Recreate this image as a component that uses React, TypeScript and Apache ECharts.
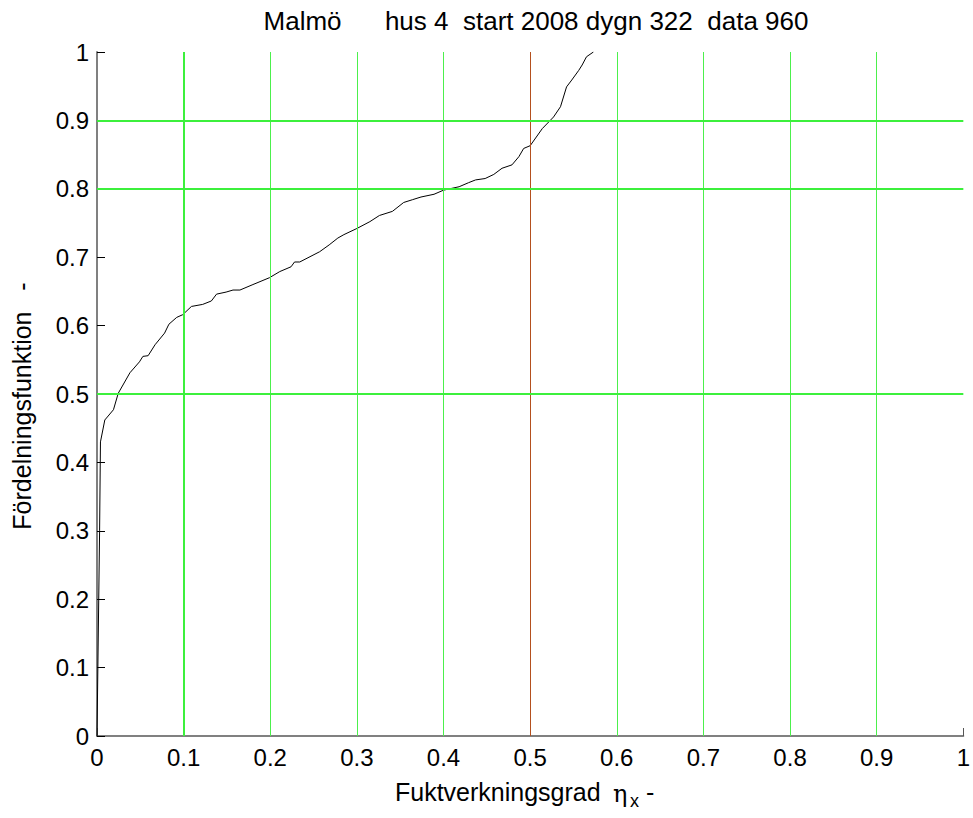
import React, { useEffect, useRef } from "react";
import * as echarts from "echarts";

const xValues = [0, 0.001, 0.002, 0.003, 0.004, 0.009, 0.019, 0.0245, 0.038, 0.049, 0.053, 0.059, 0.067, 0.078, 0.083, 0.092, 0.099, 0.109, 0.122, 0.132, 0.138, 0.149, 0.157, 0.165, 0.18, 0.199, 0.211, 0.224, 0.228, 0.234, 0.257, 0.268, 0.278, 0.285, 0.3, 0.315, 0.326, 0.341, 0.354, 0.364, 0.374, 0.389, 0.4, 0.418, 0.429, 0.437, 0.448, 0.458, 0.4675, 0.479, 0.487, 0.4925, 0.5, 0.514, 0.527, 0.535, 0.542, 0.548, 0.556, 0.56, 0.565, 0.573];
const cdfValues = [0, 0.1, 0.2, 0.3, 0.43, 0.462, 0.477, 0.501, 0.531, 0.547, 0.555, 0.556, 0.572, 0.589, 0.602, 0.612, 0.616, 0.628, 0.631, 0.636, 0.646, 0.649, 0.652, 0.652, 0.66, 0.67, 0.679, 0.686, 0.693, 0.693, 0.708, 0.718, 0.728, 0.733, 0.742, 0.752, 0.761, 0.767, 0.78, 0.784, 0.788, 0.792, 0.798, 0.803, 0.809, 0.813, 0.815, 0.821, 0.83, 0.835, 0.847, 0.859, 0.863, 0.888, 0.905, 0.92, 0.949, 0.959, 0.973, 0.981, 0.993, 1.0];

const verticalGridThin = [0.2, 0.3, 0.4, 0.6, 0.7, 0.8, 0.9];
const verticalGridThick = [0.1];
const verticalGridBrown = [0.5];
const horizontalGrid = [0.5, 0.8, 0.9];

const titleText = "Malmö      hus 4  start 2008 dygn 322  data 960";
const yLabel = "Fördelningsfunktion   -";
const xLabel = "Fuktverkningsgrad";

const FONT = "'Liberation Sans', Arial, Helvetica, sans-serif";
const GREEN = "#3cf03c";
const GREEN_THIN = "#4cf04c";
const BROWN = "#b4501e";

export default function App() {
  const ref = useRef<HTMLDivElement>(null);
  useEffect(() => {
    if (!ref.current) return;
    const chart = echarts.init(ref.current, undefined, { renderer: "svg" });
    const fmt = (v: number) => String(+v.toFixed(1));
    const markData: any[] = [];
    verticalGridThin.forEach((v) => markData.push({ xAxis: v, lineStyle: { color: GREEN_THIN, width: 1, type: "solid" } }));
    verticalGridThick.forEach((v) => markData.push({ xAxis: v, lineStyle: { color: GREEN, width: 2, type: "solid" } }));
    verticalGridBrown.forEach((v) => markData.push({ xAxis: v, lineStyle: { color: BROWN, width: 1, type: "solid" } }));
    horizontalGrid.forEach((v) => markData.push({ yAxis: v, lineStyle: { color: GREEN, width: 2, type: "solid" } }));

    chart.setOption({
      animation: false,
      backgroundColor: "#ffffff",
      grid: { left: 97, right: 7, top: 52, bottom: 82, containLabel: false },
      xAxis: {
        type: "value",
        min: 0,
        max: 1,
        interval: 0.1,
        axisLine: { show: true, lineStyle: { color: "#808080", width: 2 } },
        axisTick: { show: true, inside: true, length: 8, lineStyle: { color: "#555555", width: 1 } },
        axisLabel: { color: "#000", fontSize: 24, fontFamily: FONT, margin: 9, formatter: fmt },
        splitLine: { show: false },
      },
      yAxis: {
        type: "value",
        min: 0,
        max: 1,
        interval: 0.1,
        axisLine: { show: true, lineStyle: { color: "#808080", width: 2 } },
        axisTick: { show: true, inside: true, length: 8, lineStyle: { color: "#000", width: 1 } },
        axisLabel: { color: "#000", fontSize: 24, fontFamily: FONT, margin: 8, formatter: fmt },
        splitLine: { show: false },
      },
      series: [
        {
          type: "line",
          z: 1,
          data: [],
          silent: true,
          markLine: {
            silent: true,
            symbol: ["none", "none"],
            label: { show: false },
            animation: false,
            data: markData,
          },
        },
        {
          type: "line",
          z: 3,
          data: xValues.map((x, i) => [x, cdfValues[i]]),
          showSymbol: false,
          symbol: "none",
          lineStyle: { color: "#000", width: 1 },
          silent: true,
        },
      ],
      graphic: [
        {
          type: "text",
          x: 536,
          y: 21,
          style: { text: titleText, fill: "#000", font: `26px ${FONT}`, align: "center", verticalAlign: "middle" },
        },
        {
          type: "text",
          x: 22,
          y: 406,
          rotation: Math.PI / 2,
          style: { text: yLabel, fill: "#000", font: `25px ${FONT}`, align: "center", verticalAlign: "middle" },
        },
        {
          type: "text",
          x: 395,
          y: 792,
          style: { text: xLabel, fill: "#000", font: `25px ${FONT}`, align: "left", verticalAlign: "middle" },
        },
        {
          type: "text",
          x: 613,
          y: 794,
          style: { text: "η", fill: "#000", font: `24px 'DejaVu Serif', serif`, align: "left", verticalAlign: "middle" },
        },
        {
          type: "text",
          x: 630,
          y: 801,
          style: { text: "x", fill: "#000", font: `18px ${FONT}`, align: "left", verticalAlign: "middle" },
        },
        {
          type: "text",
          x: 646,
          y: 792,
          style: { text: "-", fill: "#000", font: `25px ${FONT}`, align: "left", verticalAlign: "middle" },
        },
      ],
    });
    return () => chart.dispose();
  }, []);
  return <div ref={ref} style={{ position: "fixed", left: 0, top: 0, width: 973, height: 818 }} />;
}
